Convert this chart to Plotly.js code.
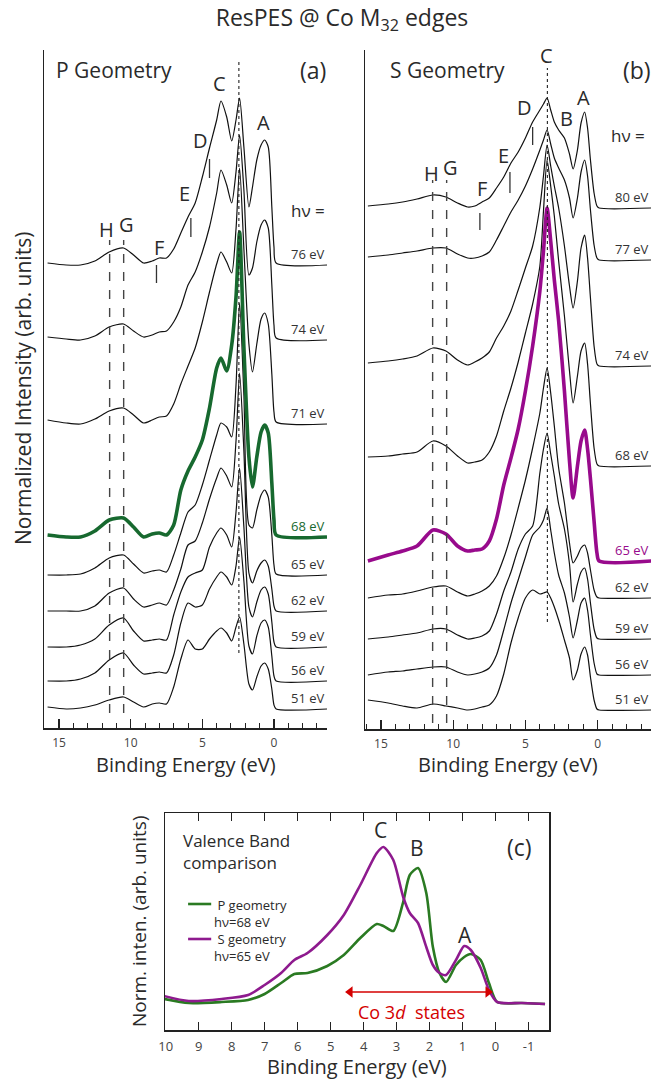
<!DOCTYPE html>
<html><head><meta charset="utf-8">
<script src="https://cdn.plot.ly/plotly-3.0.1.min.js"></script>
<style>html,body{margin:0;padding:0;background:#fff}#chart{width:666px;height:1081px}</style>
</head><body><div id="chart"></div>
<script>
// ---------- Panel (a): P geometry ----------
const energyA = [15.8, 14.5, 13.5, 12.5, 11.5, 10.5, 9.8, 9.1, 8.5, 8.0, 7.5, 7.0, 6.5, 6.0, 5.5, 5.0, 4.5, 4.0, 3.7, 3.3, 2.95, 2.65, 2.4, 2.1, 1.75, 1.5, 1.2, 0.9, 0.65, 0.4, 0.15, 0.0, -0.15, -3.7];
const photonA = ['76 eV','74 eV','71 eV','68 eV','65 eV','62 eV','59 eV','56 eV','51 eV'];
const offsetA = [463, 388, 304, 191, 153, 117, 81, 47, 19];
const pGeom76 = [2,0,0,4,13,17,10,2,4,7, 7,16,32,48,62,88,117,145,164,148, 124,145,167,118,58,78,105,120,125,118, 58,18,2,0];
const pGeom74 = [3,1,0,4,13,16,9,3,5,8, 9,18,33,55,68,88,113,147,170,155, 137,168,205,150,65,72,98,115,120,112, 55,15,2,0];
const pGeom71 = [4,1,0,5,13,16,9,1,4,7, 8,20,40,58,76,102,132,160,172,162, 151,195,256,175,80,52,80,105,111,100, 50,12,2,0];
const pGeom68 = [2,0,0,6,17,19,10,0,3,4, 2,12,47,66,80,97,129,169,179,166, 192,240,305,190,80,50,80,105,112,104, 54,17,2,0];
const pGeom65 = [0,0,1,7,17,20,11,2,4,5, 3,20,42,63,70,90,115,140,152,148, 138,190,272,180,50,47,65,80,85,78, 40,10,1,0];
const pGeom62 = [0,0,0,5,18,23,12,4,6,8, 6,21,42,66,70,88,112,133,143,135, 124,170,238,160,38,28,40,48,51,45, 22,5,0,0];
const pGeom59 = [0,0,2,8,22,29,16,6,7,8, 7,32,55,70,74,77,100,114,119,112, 100,135,179,120,40,30,45,57,60,53, 25,5,0,0];
const pGeom56 = [0,0,2,8,21,28,16,7,8,9, 8,26,58,78,74,76,92,104,109,104, 96,115,144,100,35,27,45,58,61,54, 25,5,0,0];
const pGeom51 = [2,0,1,4,9,12,7,2,5,6, 5,22,50,69,60,60,70,78,81,76, 68,82,92,65,25,19,32,43,46,40, 20,4,0,0];
const seriesA = [pGeom76, pGeom74, pGeom71, pGeom68, pGeom65, pGeom62, pGeom59, pGeom56, pGeom51];

// ---------- Panel (b): S geometry ----------
const energyB = [15.9, 14.5, 13.5, 12.5, 11.4, 10.5, 9.7, 9.0, 8.5, 8.0, 7.5, 7.0, 6.5, 6.0, 5.5, 5.0, 4.5, 4.0, 3.75, 3.5, 3.25, 3.0, 2.7, 2.3, 1.95, 1.7, 1.4, 1.15, 0.9, 0.7, 0.5, 0.25, 0.05, -0.1, -3.7];
const photonB = ['80 eV','77 eV','74 eV','68 eV','65 eV','62 eV','59 eV','56 eV','51 eV'];
const offsetB = [521, 469, 363, 263, 168, 131, 90, 54, 19];
const sGeom80 = [2,4,6,9,13,11,5,1,2,6, 10,20,31,45,56,70,86,98,104,110, 98,86,78,70,54,39,58,85,96,80, 48,15,2,0,0];
const sGeom77 = [3,5,7,9,12,12,6,2,2,4, 8,20,34,48,60,74,91,110,120,130, 116,102,92,80,62,42,62,88,100,84, 50,15,2,0,0];
const sGeom74 = [3,5,7,10,18,15,6,1,4,8, 14,28,40,55,76,98,120,159,190,221, 200,180,158,120,80,58,85,118,131,108, 68,20,2,0,0];
const sGeom68 = [9,10,12,14,25,20,10,3,4,6, 14,30,55,78,104,133,162,200,255,306, 280,250,205,150,95,63,90,115,123,102, 62,18,2,0,0];
const sGeom65 = [0,6,10,15,31,27,15,10,11,12, 20,42,76,103,132,170,215,270,310,353, 320,281,240,170,100,63,95,120,131,112, 82,40,8,0,0];
const sGeom62 = [0,3,4,7,11,12,6,2,4,7, 12,22,40,63,90,118,150,185,210,230, 205,172,130,95,55,35,42,50,53,45, 28,8,1,0,0];
const sGeom59 = [0,2,4,6,10,10,4,0,1,3, 8,25,48,67,90,105,113,166,190,206, 185,163,135,110,75,37,55,67,71,60, 36,10,1,0,0];
const sGeom56 = [0,3,4,6,8,8,3,0,1,3, 7,20,45,72,95,118,140,148,155,167, 145,122,100,82,58,37,55,72,77,65, 40,12,1,0,0];
const sGeom51 = [10,7,4,2,6,4,2,0,1,3, 5,14,36,67,92,112,120,116,117,118, 112,103,90,70,52,30,40,56,63,55, 33,10,1,0,0];
const seriesB = [sGeom80, sGeom77, sGeom74, sGeom68, sGeom65, sGeom62, sGeom59, sGeom56, sGeom51];

// ---------- Panel (c): valence band comparison ----------
const energyC = [10.05, 9.3, 8.3, 7.5, 7.0, 6.5, 6.1, 5.7, 5.1, 4.6, 4.1, 3.6, 3.4, 3.1, 2.8, 2.6, 2.35, 2.1, 1.9, 1.7, 1.5, 1.2, 0.95, 0.75, 0.45, 0.2, -0.05, -0.8, -1.5];
const vbP68 = [31,27,28,30,36,47,56,57,64,75, 92,106,104,99,128,155,162,137,83,57, 48,65,73,76,70,47,28,27,26];
const vbS65 = [34,29,31,35,45,57,70,77,95,115, 145,177,183,170,133,117,107,83,65,57, 55,70,84,80,62,40,28,27,26];
const co3dSpan = [4.41, 0.23];      // extent of the Co 3d states arrow (eV)
const tickValsC = [10,9,8,7,6,5,4,3,2,1,0,-1];
const tickTextC = ['10','9','8','7','6','5','4','3','2','1','0','-1'];

const GREEN = '#17692f', PURPLE = '#980a8c';
const GREEN_C = '#2a7a22', PURPLE_C = '#8e1a8e';
const RED = '#d40000';
const FONT = '"Open Sans", "Noto Sans", "DejaVu Sans", sans-serif';
const INK = '#2a2a2a';

const traces = [];
function stack(energy, series, offsets, xa, ya, hiIdx, hiColor) {
  const order = series.map((_, i) => i).filter(i => i !== hiIdx).concat([hiIdx]);
  order.forEach(i => {
    const hi = i === hiIdx;
    traces.push({
      x: energy, y: series[i].map(v => v + offsets[i]), xaxis: xa, yaxis: ya,
      type: 'scatter', mode: 'lines', showlegend: false, hoverinfo: 'skip',
      line: {color: hi ? hiColor : '#111', width: hi ? 3.6 : 1.2, shape: 'spline', smoothing: 0.7}
    });
  });
}
stack(energyA, seriesA, offsetA, 'x', 'y', 3, GREEN);
stack(energyB, seriesB, offsetB, 'x2', 'y2', 4, PURPLE);
traces.push({x: energyC, y: vbP68, xaxis: 'x3', yaxis: 'y3', type: 'scatter', mode: 'lines', showlegend: false,
  line: {color: GREEN_C, width: 2.6, shape: 'spline', smoothing: 0.7}});
traces.push({x: energyC, y: vbS65, xaxis: 'x3', yaxis: 'y3', type: 'scatter', mode: 'lines', showlegend: false,
  line: {color: PURPLE_C, width: 2.6, shape: 'spline', smoothing: 0.7}});
// Co 3d double arrow
traces.push({x: co3dSpan, y: [38, 38], xaxis: 'x3', yaxis: 'y3', type: 'scatter', mode: 'lines+markers', showlegend: false,
  line: {color: RED, width: 1.5}, marker: {symbol: ['triangle-left', 'triangle-right'], size: 10, color: RED}});

const ann = [];
function txt(xref, yref, x, y, text, size, extra) {
  ann.push(Object.assign({xref, yref, x, y, text, showarrow: false,
    font: {family: FONT, size, color: INK}, xanchor: 'center', yanchor: 'middle'}, extra || {}));
}
// curve labels
photonA.forEach((t, i) => txt('x', 'y', -3.7, offsetA[i], t, 13,
  {xanchor: 'right', yanchor: 'bottom', font: {family: FONT, size: 13, color: i === 3 ? GREEN : '#333'}}));
photonB.forEach((t, i) => txt('x2', 'y2', -3.69, offsetB[i], t, 13,
  {xanchor: 'right', yanchor: 'bottom', font: {family: FONT, size: 13, color: i === 4 ? PURPLE : '#333'}}));
// panel (a) labels
[['B',2.45,682],['C',3.78,645],['A',0.7,606],['D',5.1,588],['E',6.22,535],['F',8.04,481],['H',11.68,499],['G',10.28,504]]
  .forEach(p => txt('x','y',p[1],p[2],p[0],20));
txt('x','y',-3.68,518,'hν =',17,{xanchor:'right'});
txt('x','y',11.15,658,'P Geometry',21);
txt('x','y',-2.75,658,'(a)',23);
// panel (b) labels
[['C',3.51,674],['D',5.03,622],['B',2.19,611],['A',0.95,632],['E',6.55,574],['F',8.0,541],['H',11.47,556],['G',10.15,562]]
  .forEach(p => txt('x2','y2',p[1],p[2],p[0],20));
txt('x2','y2',-3.4,594,'hν =',17,{xanchor:'right'});
txt('x2','y2',10.36,659,'S Geometry',21);
txt('x2','y2',-2.7,659,'(b)',23);
// panel (c) labels
txt('x3','y3',3.5,200,'C',21);
txt('x3','y3',2.39,182,'B',21);
txt('x3','y3',0.92,95,'A',21);
txt('x3','y3',-0.74,183,'(c)',23);
txt('x3','y3',9.55,178.5,'Valence Band<br>comparison',17,{xanchor:'left', align:'left'});
txt('x3','y3',8.6,100,'&nbsp;P geometry<br>hν=68 eV<br>&nbsp;S geometry<br>hν=65 eV',13,{xanchor:'left', align:'left'});
txt('x3','y3',2.56,18,'Co 3<i>d</i>  states',18,{font:{family:FONT,size:18,color:RED}});
// axis titles
txt('paper','paper',185.5/666,1-764/1081,'Binding Energy (eV)',20);
txt('paper','paper',508/666,1-764/1081,'Binding Energy (eV)',20);
txt('paper','paper',357/666,1-1066/1081,'Binding Energy (eV)',20);
txt('paper','paper',23/666,1-389/1081,'Normalized Intensity (arb. units)',21,{textangle:-90});
txt('paper','paper',139/666,1-921/1081,'Norm. inten. (arb. units)',19,{textangle:-90});

const shapes = [];
function vline(xr, yr, x, y0, y1, dash, color, w) {
  shapes.push({type:'line', xref:xr, yref:yr, x0:x, x1:x, y0, y1, line:{color:color||'#333', width:w||1.3, dash:dash||'solid'}});
}
// panel (a) guides
vline('x','y',11.47,15,488,'dash','#444',1.4);
vline('x','y',10.49,15,488,'dash','#444',1.4);
vline('x','y',2.45,75,666,'dot','#222',1.1);
vline('x','y',4.5,550,569); vline('x','y',5.8,491,510); vline('x','y',8.2,445,463);
// panel (b) guides
vline('x2','y2',11.42,6,549,'dash','#444',1.4);
vline('x2','y2',10.45,6,549,'dash','#444',1.4);
vline('x2','y2',3.48,107,661,'dot','#222',1.1);
vline('x2','y2',4.5,584,602); vline('x2','y2',6.07,536,557); vline('x2','y2',8.15,499,516);
// legend samples in (c)
shapes.push({type:'line',xref:'x3',yref:'y3',x0:9.32,x1:8.62,y0:126,y1:126,line:{color:GREEN_C,width:2.6}});
shapes.push({type:'line',xref:'x3',yref:'y3',x0:9.32,x1:8.62,y0:91,y1:91,line:{color:PURPLE_C,width:2.6}});

const axBase = {showgrid:false, zeroline:false, showline:true, linecolor:'#222', linewidth:1.5};
const xBase = Object.assign({}, axBase, {ticks:'inside', ticklen:9, tickwidth:1.3, tickcolor:'#222', dtick:5, tick0:0,
  minor:{dtick:1, ticks:'inside', ticklen:5, tickwidth:1, tickcolor:'#222'},
  tickfont:{family:FONT, size:12, color:'#444'}, ticklabelstandoff:3});
const yBase = Object.assign({}, axBase, {ticks:'', showticklabels:false});

const layout = {
  width:666, height:1081, margin:{l:0,r:0,t:0,b:0}, paper_bgcolor:'#fff', plot_bgcolor:'rgba(0,0,0,0)',
  font:{family:FONT, color:INK}, showlegend:false,
  title:{text:'ResPES @ Co M<sub>32</sub> edges', x:342/666, xanchor:'center', y:1-18/1081, yanchor:'middle',
    font:{family:FONT, size:23, color:INK}},
  xaxis: Object.assign({}, xBase, {domain:[44/666, 327/666], range:[16.05,-3.70], anchor:'y'}),
  yaxis: Object.assign({}, yBase, {domain:[1-728/1081, 1-50/1081], range:[0,678], anchor:'x'}),
  xaxis2: Object.assign({}, xBase, {domain:[365/666, 651/666], range:[16.10,-3.69], anchor:'y2'}),
  yaxis2: Object.assign({}, yBase, {domain:[1-729/1081, 1-50/1081], range:[0,679], anchor:'x2'}),
  xaxis3: Object.assign({}, axBase, {domain:[165/666, 549/666], range:[10.02,-1.62], anchor:'y3', mirror:'ticks',
    ticks:'inside', ticklen:8, tickwidth:1.3, tickcolor:'#222', tickmode:'array', tickvals:tickValsC, ticktext:tickTextC,
    tickfont:{family:FONT, size:13, color:'#444'}, ticklabelstandoff:4}),
  yaxis3: Object.assign({}, yBase, {domain:[1-1030/1081, 1-813/1081], range:[0,217], anchor:'x3', mirror:true}),
  annotations: ann, shapes: shapes
};
Plotly.newPlot('chart', traces, layout, {staticPlot:true, displayModeBar:false});
</script></body></html>
